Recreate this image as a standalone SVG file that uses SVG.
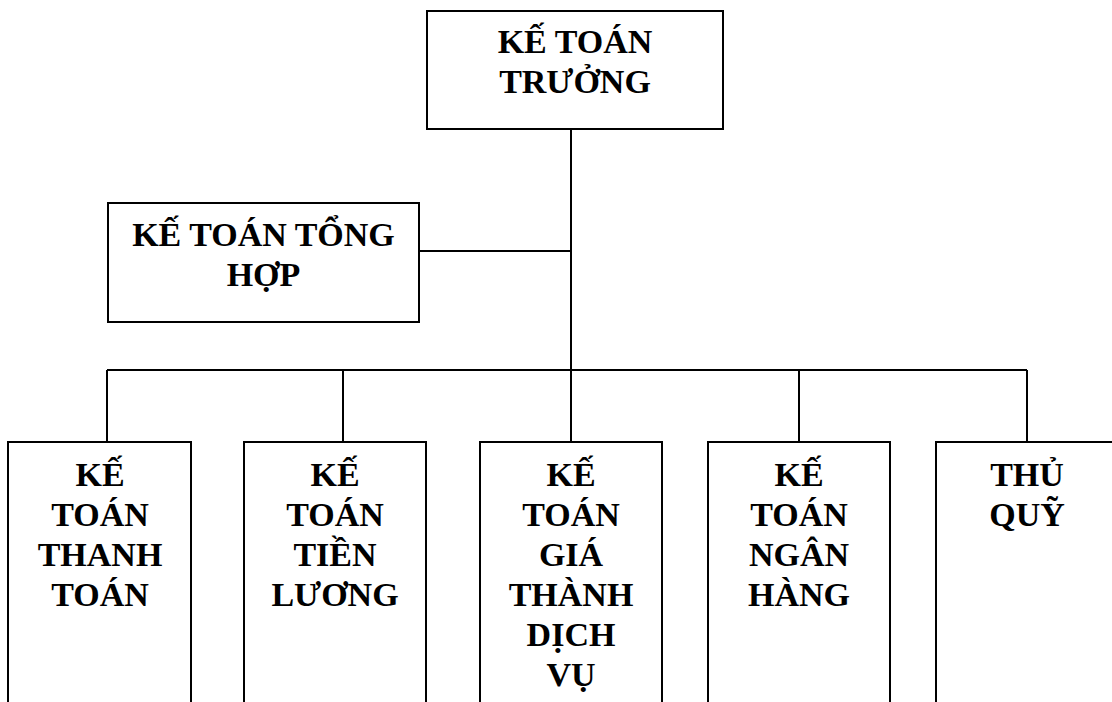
<svg xmlns="http://www.w3.org/2000/svg" width="1112" height="702" viewBox="0 0 1112 702">
<style>
.box{fill:#fff;stroke:#000;stroke-width:2}
.ln{fill:none;stroke:#000;stroke-width:2}
text{font-family:"Liberation Serif","Times New Roman",serif;font-weight:bold;font-size:34px;fill:#000;text-anchor:middle}
</style>
<rect width="1112" height="702" fill="#fff"/>
<g id="connectors">
<path class="ln" d="M571,129 V370 M419,251 H571 M107,370 H1027 M107,370 V442 M343,370 V442 M571,370 V442 M799,370 V442 M1027,370 V442"/>
</g>
<g id="ke-toan-truong">
<rect class="box" x="427" y="11" width="296" height="118"/>
<text x="575" y="53">KẾ TOÁN</text>
<text x="575" y="93">TRƯỞNG</text>
</g>
<g id="ke-toan-tong-hop">
<rect class="box" x="108" y="203" width="311" height="119"/>
<text x="263.5" y="246">KẾ TOÁN TỔNG</text>
<text x="263.5" y="286">HỢP</text>
</g>
<g id="ke-toan-thanh-toan">
<rect class="box" x="8" y="442" width="183" height="270"/>
<text x="100" y="486">KẾ</text>
<text x="100" y="526">TOÁN</text>
<text x="100" y="566">THANH</text>
<text x="100" y="606">TOÁN</text>
</g>
<g id="ke-toan-tien-luong">
<rect class="box" x="244" y="442" width="182" height="270"/>
<text x="335" y="486">KẾ</text>
<text x="335" y="526">TOÁN</text>
<text x="335" y="566">TIỀN</text>
<text x="335" y="606">LƯƠNG</text>
</g>
<g id="ke-toan-gia-thanh-dich-vu">
<rect class="box" x="480" y="442" width="182" height="270"/>
<text x="571" y="486">KẾ</text>
<text x="571" y="526">TOÁN</text>
<text x="571" y="566">GIÁ</text>
<text x="571" y="606">THÀNH</text>
<text x="571" y="646">DỊCH</text>
<text x="571" y="686">VỤ</text>
</g>
<g id="ke-toan-ngan-hang">
<rect class="box" x="708" y="442" width="182" height="270"/>
<text x="799" y="486">KẾ</text>
<text x="799" y="526">TOÁN</text>
<text x="799" y="566">NGÂN</text>
<text x="799" y="606">HÀNG</text>
</g>
<g id="thu-quy">
<rect class="box" x="936" y="442" width="182" height="270"/>
<text x="1027" y="486">THỦ</text>
<text x="1027" y="526">QUỸ</text>
</g>
</svg>
